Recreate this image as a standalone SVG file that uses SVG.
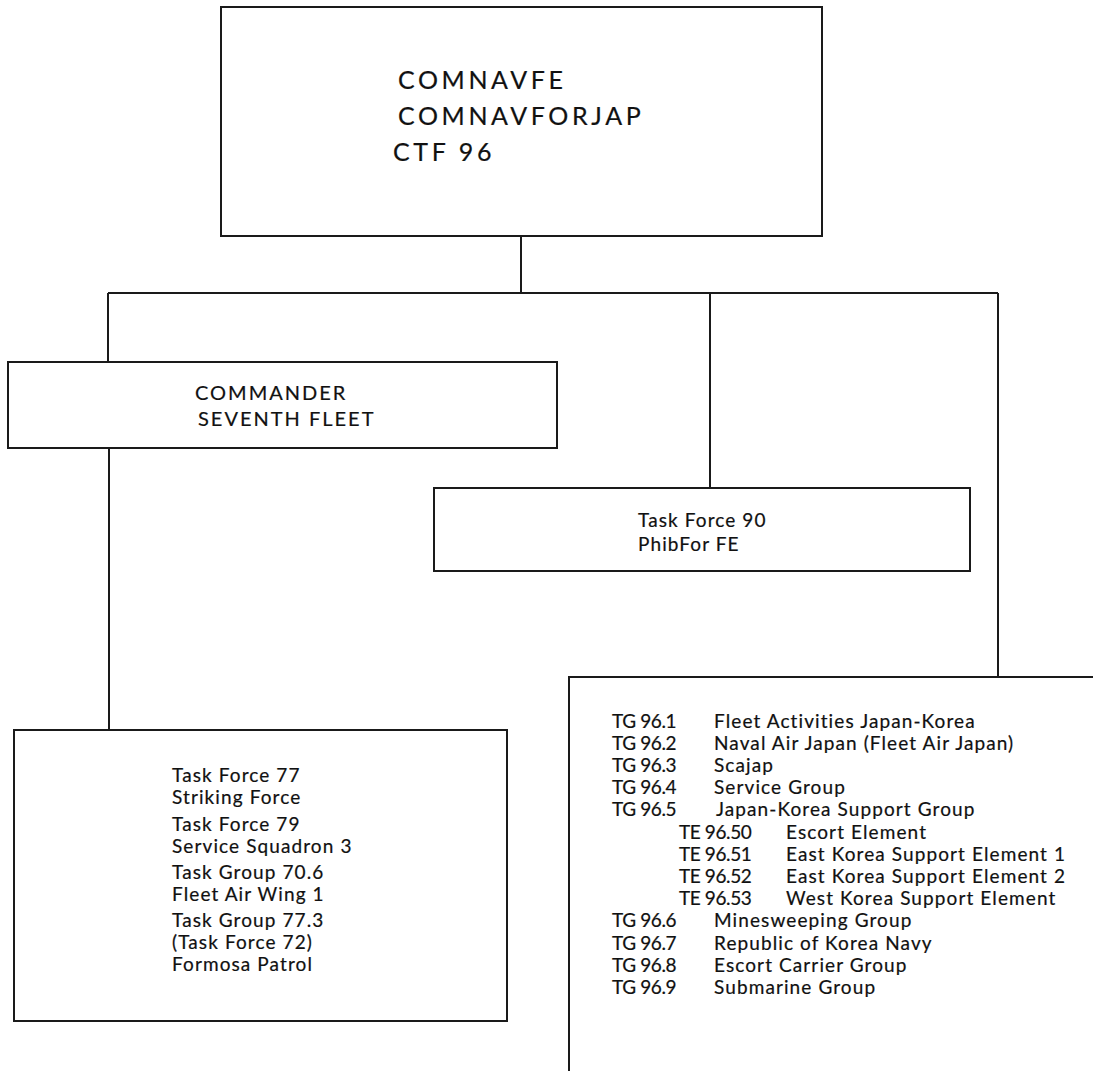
<svg xmlns="http://www.w3.org/2000/svg" width="1093" height="1071" viewBox="0 0 1093 1071">
<style>
.box{fill:#fff;stroke:#1a1a1a;stroke-width:2}
.ln{fill:none;stroke:#1a1a1a;stroke-width:2}
text{font-family:Lato,"Noto Sans","Liberation Sans",sans-serif;fill:#111;stroke:#111;stroke-width:0.2}
.big{font-size:25px;letter-spacing:3.6px}
.mid{font-size:20px;letter-spacing:2px}
.sm{font-size:19px;letter-spacing:1.1px}
.code{font-size:19px;letter-spacing:-0.4px}
</style>
<rect width="1093" height="1071" fill="#fff"/>
<g id="connectors">
<path class="ln" d="M521,236 V293"/>
<path class="ln" d="M108,293 H998"/>
<path class="ln" d="M108,293 V362"/>
<path class="ln" d="M710,293 V488"/>
<path class="ln" d="M998,293 V677"/>
<path class="ln" d="M109,448 V730"/>
</g>
<g id="comnavfe">
<rect class="box" x="221" y="7" width="601" height="229"/>
<text class="big" x="398" y="89">COMNAVFE</text>
<text class="big" x="398" y="125">COMNAVFORJAP</text>
<text class="big" x="393" y="161">CTF 96</text>
</g>
<g id="seventh-fleet">
<rect class="box" x="8" y="362" width="549" height="86"/>
<text class="mid" x="195" y="400">COMMANDER</text>
<text class="mid" x="198" y="426">SEVENTH FLEET</text>
</g>
<g id="tf90">
<rect class="box" x="434" y="488" width="536" height="83"/>
<text class="sm" x="638" y="527">Task Force 90</text>
<text class="sm" x="638" y="551">PhibFor FE</text>
</g>
<g id="seventh-fleet-forces">
<rect class="box" x="14" y="730" width="493" height="291"/>
<text class="sm" x="172" y="782">Task Force 77</text>
<text class="sm" x="172" y="804">Striking Force</text>
<text class="sm" x="172" y="831">Task Force 79</text>
<text class="sm" x="172" y="853">Service Squadron 3</text>
<text class="sm" x="172" y="879">Task Group 70.6</text>
<text class="sm" x="172" y="901">Fleet Air Wing 1</text>
<text class="sm" x="172" y="927">Task Group 77.3</text>
<text class="sm" x="172" y="949">(Task Force 72)</text>
<text class="sm" x="172" y="971">Formosa Patrol</text>
</g>
<g id="tf96-groups">
<path class="box" d="M1095,677 H569 V1073"/>
<text class="code" x="612" y="728">TG 96.1</text><text class="sm" x="714" y="728">Fleet Activities Japan-Korea</text>
<text class="code" x="612" y="750">TG 96.2</text><text class="sm" x="714" y="750">Naval Air Japan (Fleet Air Japan)</text>
<text class="code" x="612" y="772">TG 96.3</text><text class="sm" x="714" y="772">Scajap</text>
<text class="code" x="612" y="794">TG 96.4</text><text class="sm" x="714" y="794">Service Group</text>
<text class="code" x="612" y="816">TG 96.5</text><text class="sm" x="716" y="816">Japan-Korea Support Group</text>
<text class="code" x="679" y="839">TE 96.50</text><text class="sm" x="786" y="839">Escort Element</text>
<text class="code" x="679" y="861">TE 96.51</text><text class="sm" x="786" y="861">East Korea Support Element 1</text>
<text class="code" x="679" y="883">TE 96.52</text><text class="sm" x="786" y="883">East Korea Support Element 2</text>
<text class="code" x="679" y="905">TE 96.53</text><text class="sm" x="786" y="905">West Korea Support Element</text>
<text class="code" x="612" y="927">TG 96.6</text><text class="sm" x="714" y="927">Minesweeping Group</text>
<text class="code" x="612" y="950">TG 96.7</text><text class="sm" x="714" y="950">Republic of Korea Navy</text>
<text class="code" x="612" y="972">TG 96.8</text><text class="sm" x="714" y="972">Escort Carrier Group</text>
<text class="code" x="612" y="994">TG 96.9</text><text class="sm" x="714" y="994">Submarine Group</text>
</g>
</svg>
